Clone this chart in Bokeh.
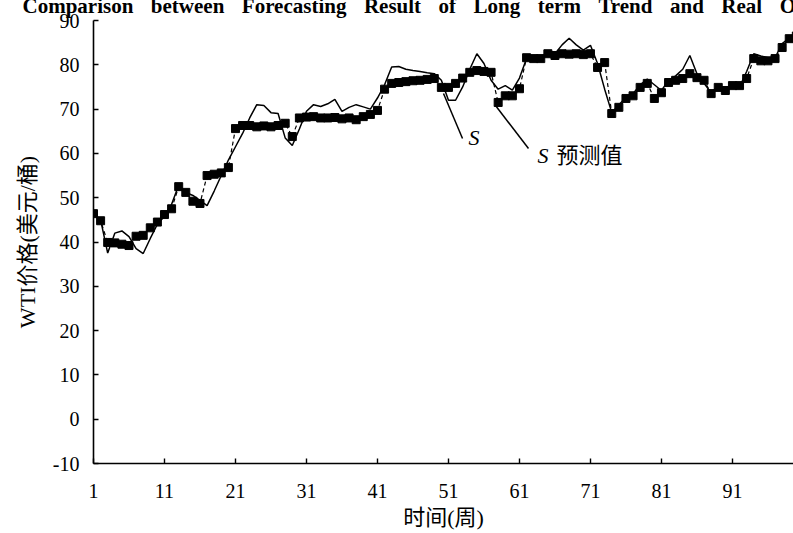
from bokeh.plotting import figure
from bokeh.models import Range1d, FixedTicker, Label, Title
from bokeh.embed import file_html
from bokeh.resources import INLINE

# Weekly WTI price: actual series S and its forecast
weeks = list(range(1, 101))

price_actual = [
    46.4, 45.0, 37.5, 42.0, 42.5, 41.2, 38.5, 37.4, 40.8, 44.0,
    45.8, 48.5, 52.8, 51.2, 50.5, 49.4, 48.2, 51.5, 55.0, 58.5,
    61.5, 64.5, 68.0, 71.0, 70.8, 69.2, 69.0, 63.5, 61.8, 65.5,
    69.5, 71.0, 70.6, 71.2, 72.2, 69.5, 70.4, 71.0, 70.5, 70.0,
    72.5, 75.5, 79.5, 79.6, 79.0, 78.7, 78.5, 78.2, 78.0, 76.5,
    72.0, 72.0, 75.0, 79.0, 82.5, 80.3, 76.5, 74.5, 75.3, 74.3,
    77.0, 81.4, 81.4, 82.0, 82.3, 82.5, 84.5, 86.0, 84.5, 83.3,
    84.4, 80.3, 74.5, 69.2, 71.0, 72.6, 73.5, 75.5, 76.8, 75.5,
    74.2, 76.5, 77.5, 79.0, 82.1, 78.0, 75.8, 73.7, 75.3, 74.2,
    75.5, 75.0, 78.5, 82.5, 82.0, 81.6, 81.6, 84.8, 86.0, 87.0,
]

price_forecast = [
    46.4, 44.8, 39.9, 39.8, 39.5, 39.2, 41.3, 41.5, 43.2, 44.5,
    46.2, 47.5, 52.5, 51.2, 49.2, 48.7, 55.0, 55.3, 55.6, 56.8,
    65.6, 66.3, 66.3, 66.0, 66.2, 66.0, 66.3, 66.8, 63.8, 68.0,
    68.2, 68.3, 68.0, 68.0, 68.1, 67.8, 68.0, 67.6, 68.3, 68.8,
    69.7, 74.5, 75.8, 76.0, 76.2, 76.4, 76.5, 76.7, 76.9, 74.9,
    74.9, 75.8, 77.0, 78.3, 78.7, 78.5, 78.3, 71.5, 73.0, 73.0,
    74.6, 81.6, 81.4, 81.4, 82.5, 82.1, 82.5, 82.4, 82.5, 82.3,
    82.5, 79.4, 80.5, 69.0, 70.4, 72.4, 73.0, 74.9, 75.8, 72.4,
    73.7, 76.0, 76.5, 76.9, 78.0, 77.1, 76.5, 73.5, 74.9, 74.2,
    75.3, 75.3, 76.9, 81.4, 80.9, 80.9, 81.4, 83.9, 85.9, 86.5,
]

x_ticks = [1, 11, 21, 31, 41, 51, 61, 71, 81, 91]
y_ticks = [-10, 0, 10, 20, 30, 40, 50, 60, 70, 80, 90]

title_words = ["Comparison", "between", "Forecasting", "Result", "of",
               "Long", "term", "Trend", "and", "Real", "Oil", "Price"]

# Page layout (pixels)
W, H = 793, 533
SHIFT = 14                       # canvas rows that sit above the page top
FRAME_L, FRAME_R, FRAME_T, FRAME_B = 93, 793, 20, 463
X0, X1 = 1, 99.6
Y0, Y1 = -10, 90

SERIF = "Liberation Serif, Noto Sans CJK SC"


def dx(px):
    return X0 + (px - FRAME_L) * (X1 - X0) / (FRAME_R - FRAME_L)


def dy(py):
    return Y0 + (FRAME_B - py) * (Y1 - Y0) / (FRAME_B - FRAME_T)


p = figure(width=W, height=H + SHIFT, output_backend="svg", toolbar_location=None,
           x_range=Range1d(X0, X1), y_range=Range1d(Y0, Y1),
           min_border_left=FRAME_L, min_border_right=W - FRAME_R,
           min_border_top=FRAME_T + SHIFT, min_border_bottom=H - FRAME_B,
           margin=(-SHIFT, 0, 0, 0))
p.outline_line_color = None
p.xgrid.visible = False
p.ygrid.visible = False
p.background_fill_color = "white"
p.border_fill_color = "white"

# heading: wide word spacing, its upper part runs off the top edge
heading = Title(text="\u2002\u2004".join(title_words), align="left",
                offset=22 - FRAME_L, standoff=6, vertical_align="bottom",
                text_font="Liberation Serif", text_font_style="bold",
                text_font_size="21px", text_color="black")
p.add_layout(heading, "above")

for ax in (p.xaxis[0], p.yaxis[0]):
    ax.axis_line_color = "black"
    ax.axis_line_width = 1.6
    ax.major_tick_line_color = "black"
    ax.major_tick_line_width = 1.4
    ax.major_tick_in = 5
    ax.major_tick_out = 0
    ax.minor_tick_line_color = None
    ax.major_label_text_font = SERIF
    ax.major_label_text_font_size = "20px"
    ax.major_label_text_color = "black"
    ax.axis_label_text_font = SERIF
    ax.axis_label_text_font_style = "normal"
    ax.axis_label_text_font_size = "22px"
    ax.axis_label_text_color = "black"

p.xaxis.ticker = FixedTicker(ticks=x_ticks)
p.yaxis.ticker = FixedTicker(ticks=y_ticks)
# plain hyphen for the negative tick
p.yaxis.major_label_overrides = {t: ("-%d" % -t) for t in y_ticks if t < 0}
p.xaxis.major_label_standoff = 20
p.yaxis.major_label_standoff = 14
p.xaxis.axis_label = "时间(周)"
p.yaxis.axis_label = "WTI价格(美元/桶)"
p.xaxis.axis_label_standoff = 4
p.yaxis.axis_label_standoff = 10

# forecast: dashed line with square markers
p.line(weeks, price_forecast, line_color="black", line_width=1.2, line_dash="4 3")
p.scatter(weeks, price_forecast, marker="square", size=8,
          fill_color="black", line_color="black")

# actual series
p.line(weeks, price_actual, line_color="black", line_width=1.5)

# leader lines to the series labels
leader_start = [(443, 93), (495, 105)]
leader_end = [(462, 138), (528, 148)]
p.segment(x0=[dx(a) for a, _ in leader_start], y0=[dy(b) for _, b in leader_start],
          x1=[dx(a) for a, _ in leader_end], y1=[dy(b) for _, b in leader_end],
          line_color="black", line_width=1.5)

p.add_layout(Label(x=dx(468), y=dy(137), text="S", text_font=SERIF,
                   text_font_style="italic", text_font_size="22px",
                   text_baseline="middle", text_align="left", text_color="black"))
p.add_layout(Label(x=dx(537), y=dy(155), text="S", text_font=SERIF,
                   text_font_style="italic", text_font_size="22px",
                   text_baseline="middle", text_align="left", text_color="black"))
p.add_layout(Label(x=dx(556), y=dy(155), text="预测值", text_font=SERIF,
                   text_font_size="22px",
                   text_baseline="middle", text_align="left", text_color="black"))

open("out.html", "w").write(file_html(p, INLINE))
